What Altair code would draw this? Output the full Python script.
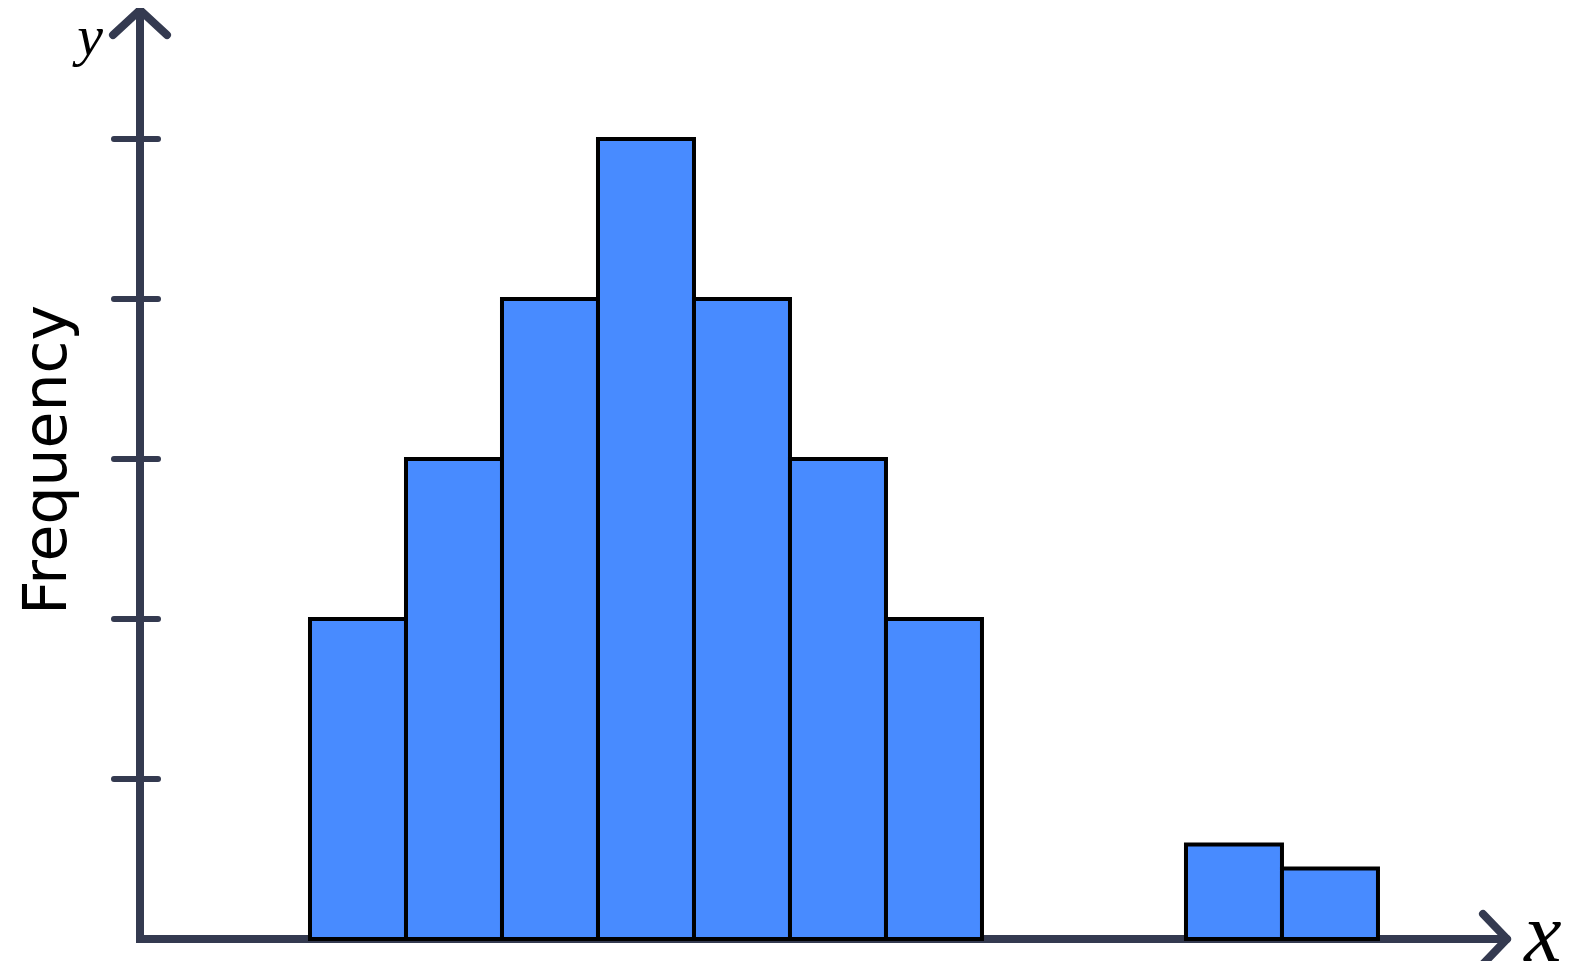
import altair as alt
import pandas as pd

# ---- data ----
bin_left = [0, 10, 20, 30, 40, 50, 60, 91.25, 101.25]
bin_right = [10, 20, 30, 40, 50, 60, 70, 101.25, 111.25]
frequency = [2, 3, 4, 5, 4, 3, 2, 0.59, 0.44]
y_ticks = [1, 2, 3, 4, 5]

# ---- scales / layout ----
X_MIN, X_MAX = -17.708, 124.69
W, H = 1367, 929
Y_MIN, Y_MAX = 0, H / 160
PX_X = W / (X_MAX - X_MIN)   # pixels per x unit
PX_Y = H / (Y_MAX - Y_MIN)   # pixels per y unit
AXIS = "#343a50"

xs = alt.Scale(domain=[X_MIN, X_MAX], nice=False, zero=False)
ys = alt.Scale(domain=[Y_MIN, Y_MAX], nice=False, zero=False)

bars_df = pd.DataFrame({"x0": bin_left, "x1": bin_right, "f": frequency,
                        "base": [0] * len(frequency)})
bars = alt.Chart(bars_df).mark_rect(
    fill="#488bff", stroke="#000000", strokeWidth=4
).encode(
    x=alt.X("x0:Q", scale=xs, axis=None),
    x2="x1:Q",
    y=alt.Y("f:Q", scale=ys, axis=None),
    y2="base:Q",
)

# axis lines with arrow heads (in data space)
ext_x = 4 / PX_X
ext_y = 4 / PX_Y
lines_df = pd.DataFrame([
    {"x0": X_MIN, "x1": X_MIN, "y0": -ext_y, "y1": Y_MAX},
    {"x0": X_MIN - ext_x, "x1": X_MAX, "y0": 0, "y1": 0},
])
lines = alt.Chart(lines_df).mark_rule(color=AXIS, strokeWidth=8, strokeCap="butt").encode(
    x=alt.X("x0:Q", scale=xs, axis=None), x2="x1:Q",
    y=alt.Y("y0:Q", scale=ys, axis=None), y2="y1:Q",
)

ay_dx, ay_dy = 27 / PX_X, 25 / PX_Y
ax_dx, ax_dy = 24 / PX_X, 25 / PX_Y
arrows_df = pd.DataFrame([
    {"x0": X_MIN, "y0": Y_MAX, "x1": X_MIN - ay_dx, "y1": Y_MAX - ay_dy},
    {"x0": X_MIN, "y0": Y_MAX, "x1": X_MIN + ay_dx, "y1": Y_MAX - ay_dy},
    {"x0": X_MAX, "y0": 0, "x1": X_MAX - ax_dx, "y1": ax_dy},
    {"x0": X_MAX, "y0": 0, "x1": X_MAX - ax_dx, "y1": -ax_dy},
])
arrows = alt.Chart(arrows_df).mark_rule(color=AXIS, strokeWidth=8, strokeCap="round").encode(
    x=alt.X("x0:Q", scale=xs, axis=None), x2="x1:Q",
    y=alt.Y("y0:Q", scale=ys, axis=None), y2="y1:Q",
)

ticks_df = pd.DataFrame({"t": y_ticks,
                         "a": [X_MIN - 26 / PX_X] * len(y_ticks),
                         "b": [X_MIN + 18 / PX_X] * len(y_ticks)})
ticks = alt.Chart(ticks_df).mark_rule(color=AXIS, strokeWidth=6, strokeCap="round").encode(
    x=alt.X("a:Q", scale=xs, axis=None), x2="b:Q",
    y=alt.Y("t:Q", scale=ys, axis=None), y2="t:Q",
)

txt_df = pd.DataFrame({"label": ["Frequency"]})
freq = alt.Chart(txt_df).mark_text(
    font="DejaVu Sans", fontSize=60, angle=270,
    align="center", baseline="alphabetic", color="#000000",
).encode(x=alt.value(-74), y=alt.value(450), text="label:N")

xlab_df = pd.DataFrame({"label": ["x"]})
xlab = alt.Chart(xlab_df).mark_text(
    font="Liberation Serif", fontStyle="italic", fontSize=84,
    align="center", baseline="alphabetic", color="#000000",
).encode(x=alt.value(1403), y=alt.value(951), text="label:N")

ylab_df = pd.DataFrame({"label": ["y"]})
ylab = alt.Chart(ylab_df).mark_text(
    font="Liberation Serif", fontStyle="italic", fontSize=58,
    align="center", baseline="alphabetic", color="#000000",
).encode(x=alt.value(-50), y=alt.value(45), text="label:N")

chart = alt.layer(lines, ticks, bars, arrows, freq, xlab, ylab).properties(
    width=W, height=H,
    padding={"left": 132, "top": 2, "right": 58, "bottom": 22},
    autosize=alt.AutoSizeParams(type="none"),
    background="white",
).configure_view(stroke=None)

chart.save("out.html", embed_options={"renderer": "svg", "actions": False})
